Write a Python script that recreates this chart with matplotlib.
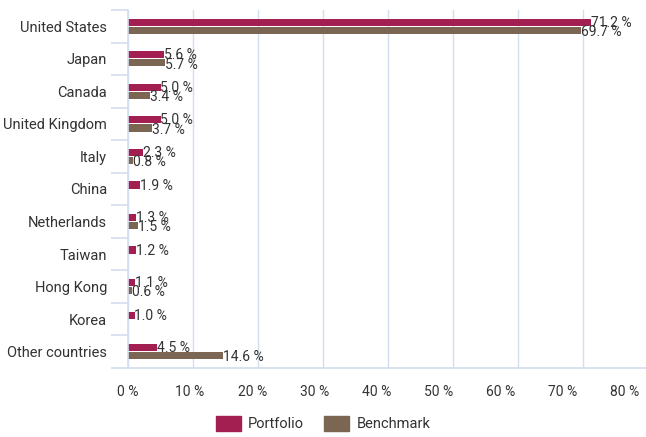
import numpy as np
import matplotlib.pyplot as plt
from matplotlib.patches import Patch
from matplotlib.transforms import ScaledTranslation

countries = ["United States", "Japan", "Canada", "United Kingdom", "Italy", "China",
             "Netherlands", "Taiwan", "Hong Kong", "Korea", "Other countries"]
portfolio = [71.2, 5.6, 5.0, 5.0, 2.3, 1.9, 1.3, 1.2, 1.1, 1.0, 4.5]
benchmark = [69.7, 5.7, 3.4, 3.7, 0.8, None, 1.5, None, 0.6, None, 14.6]
xticks = [0, 10, 20, 30, 40, 50, 60, 70, 80]

c_port = "#A31F52"
c_bench = "#7A6652"
c_grid = "#D3DDF0"
c_text = "#333333"

plt.rcParams['font.family'] = ['Roboto', 'DejaVu Sans']

fig = plt.figure(figsize=(6.46, 4.37), dpi=100)
# axis runs a little past the right edge, like the reference (80 % line is off-canvas)
ax = fig.add_axes([128 / 646, 1 - 368 / 437, 520 / 646, 358 / 437])

y = np.arange(len(countries))
h = 0.22
off = 0.125
for i in range(len(countries)):
    p = portfolio[i]
    ax.barh(y[i] - off, p, height=h, color=c_port)
    ax.text(p, y[i] - off + 0.02, f"{p:.1f} %", va="center", ha="left", fontsize=10, color=c_text)
    b = benchmark[i]
    if b is not None:
        ax.barh(y[i] + off, b, height=h, color=c_bench)
        ax.text(b, y[i] + off + 0.05, f"{b:.1f} %", va="center", ha="left", fontsize=10, color=c_text)

ax.set_ylim(len(countries) - 0.5, -0.5)
ax.set_xlim(0, 80)
ax.set_yticks(y)
ax.set_yticklabels(countries, fontsize=10.5, color=c_text)
ax.set_yticks(np.arange(-0.5, len(countries), 1), minor=True)
ax.tick_params(axis="y", which="major", length=0, pad=15)
ax.tick_params(axis="y", which="minor", length=12, color=c_grid, width=1.2)
ax.set_xticks(xticks)
ax.set_xticklabels([f"{t} %" for t in xticks], fontsize=10, color=c_text)
ax.tick_params(axis="x", length=0, pad=12)
# reference labels drift left progressively
for i, lab in enumerate(ax.get_xticklabels()):
    lab.set_transform(lab.get_transform() + ScaledTranslation(-i * 2.9 / 100, 0, fig.dpi_scale_trans))

ax.grid(axis="x", color=c_grid, linewidth=1)
ax.set_axisbelow(True)
for s in ["top", "right"]:
    ax.spines[s].set_visible(False)
ax.spines["left"].set_color(c_grid)
ax.spines["bottom"].set_color(c_grid)
ax.spines["left"].set_linewidth(1.2)
ax.spines["bottom"].set_linewidth(1.2)

handles = [Patch(color=c_port, label="Portfolio"), Patch(color=c_bench, label="Benchmark")]
fig.legend(handles=handles, loc="lower center", bbox_to_anchor=(0.5, -0.004), ncol=2,
           frameon=False, fontsize=10.5, handlelength=1.7, handleheight=1.2,
           handletextpad=0.5, columnspacing=1.4, borderpad=0, labelcolor=c_text)

fig.savefig("out.png", dpi=100)
